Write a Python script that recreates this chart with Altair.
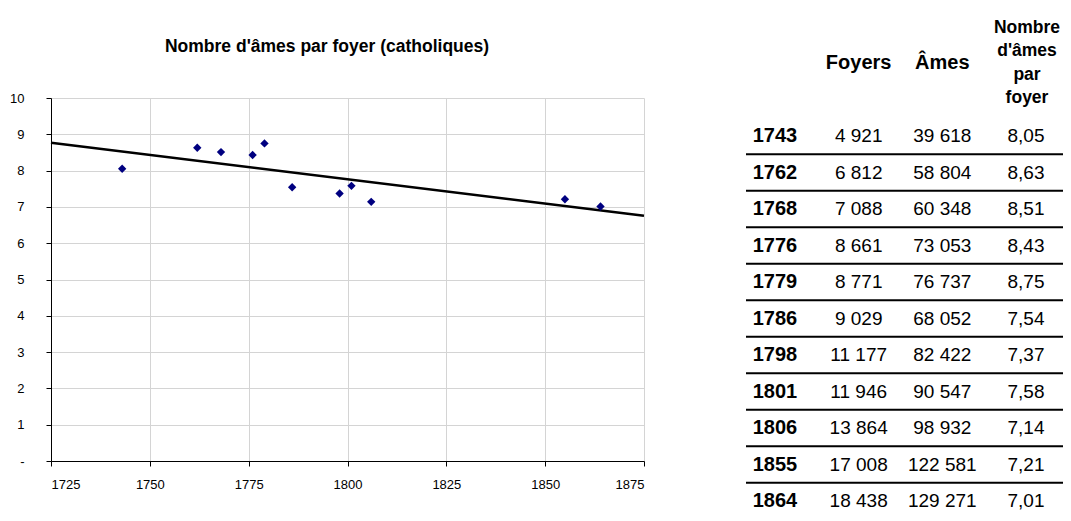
import altair as alt
import pandas as pd

# ---- data ----
years = [1743, 1762, 1768, 1776, 1779, 1786, 1798, 1801, 1806, 1855, 1864]
foyers = [4921, 6812, 7088, 8661, 8771, 9029, 11177, 11946, 13864, 17008, 18438]
ames = [39618, 58804, 60348, 73053, 76737, 68052, 82422, 90547, 98932, 122581, 129271]
ratio = [8.05, 8.63, 8.51, 8.43, 8.75, 7.54, 7.37, 7.58, 7.14, 7.21, 7.01]
x_ticks = [1725, 1750, 1775, 1800, 1825, 1850, 1875]
y_ticks = [0, 1, 2, 3, 4, 5, 6, 7, 8, 9, 10]
columns = ["Année", "Foyers", "Âmes", "Ratio"]
header_text = ["", "Foyers", "Âmes", "Nombre\nd'âmes\npar\nfoyer"]
title_text = "Nombre d'âmes par foyer (catholiques)"

FONT = "Liberation Sans, Arial, sans-serif"

def fr_int(v):
    return f"{v:,}".replace(",", " ")

def fr_dec(v):
    return f"{v:.2f}".replace(".", ",")

df_plot = pd.DataFrame({"year": years, "ratio": ratio})

row_domain = ["hdr", "gap"] + [str(y) for y in years]

tbl_rows = []
for y, f, a, r in zip(years, foyers, ames, ratio):
    tbl_rows.append({"row": str(y), "col": "Foyers", "txt": fr_int(f)})
    tbl_rows.append({"row": str(y), "col": "Âmes", "txt": fr_int(a)})
    tbl_rows.append({"row": str(y), "col": "Ratio", "txt": fr_dec(r)})
df_vals = pd.DataFrame(tbl_rows)
df_years = pd.DataFrame({"row": [str(y) for y in years], "col": "Année", "txt": [str(y) for y in years]})
df_hdr = pd.DataFrame({"row": "hdr", "col": columns[1:3], "txt": header_text[1:3]})
df_hdr2 = pd.DataFrame({"row": ["hdr"], "col": [columns[3]], "txt": [header_text[3]]})
df_rules = pd.DataFrame({"row": [str(y) for y in years[:-1]]})
df_title = pd.DataFrame({"t": [title_text]})

# ---- plot ----
xs = alt.Scale(domain=[1725, 1875], nice=False, zero=False)
ys = alt.Scale(domain=[0, 10], nice=False)

x_axis = alt.Axis(
    values=x_ticks, format="d", title=None, grid=True, gridColor="#d4d4d4",
    domainColor="black", tickColor="black", tickSize=5, labelPadding=12,
    labelFont=FONT, labelFontSize=13, labelColor="black", labelOverlap=False)
y_axis = alt.Axis(
    values=y_ticks, title=None, grid=True, gridColor="#d4d4d4",
    domainColor="black", tickColor="black", tickSize=5, labelPadding=22,
    labelExpr="datum.value == 0 ? '-' : datum.label",
    labelFont=FONT, labelFontSize=13, labelColor="black", labelOverlap=False)

trend = alt.Chart(df_plot).transform_regression(
    "year", "ratio", extent=[1725, 1875]
).mark_line(color="black", strokeWidth=2.5).encode(
    x=alt.X("year:Q", scale=xs, axis=x_axis),
    y=alt.Y("ratio:Q", scale=ys, axis=y_axis),
)

points = alt.Chart(df_plot).mark_point(
    shape="diamond", filled=True, color="#000080", size=70, opacity=1
).encode(
    x=alt.X("year:Q", scale=xs, axis=x_axis),
    y=alt.Y("ratio:Q", scale=ys, axis=y_axis),
)

title = alt.Chart(df_title).mark_text(
    font=FONT, fontSize=17.5, fontWeight="bold", color="black",
    align="center", baseline="middle"
).encode(text="t:N", x=alt.value(276), y=alt.value(-51))

plot_layer = alt.layer(trend, points, title)

# ---- table ----
cx = alt.Scale(domain=columns, type="point", range=[724, 975], padding=0)
ry = alt.Scale(domain=row_domain, type="band", range=[-53.25, 421.25],
               paddingInner=0, paddingOuter=0)

def tx(df, bold, dx=0, dy=0, size=19):
    return alt.Chart(df).mark_text(
        font=FONT, fontSize=size, fontWeight="bold" if bold else "normal",
        color="black", baseline="middle", align="center", dx=dx, dy=dy,
        lineHeight=23.3, lineBreak="\n"
    ).encode(
        x=alt.X("col:N", scale=cx, axis=None),
        y=alt.Y("row:N", scale=ry, axis=None),
        text="txt:N",
    )

rules = alt.Chart(df_rules).mark_rule(color="black", strokeWidth=2).encode(
    y=alt.Y("row:N", scale=ry, axis=None, bandPosition=1),
    x=alt.value(695), x2=alt.value(1030),
)

table_layer = alt.layer(rules, tx(df_years, True, size=20), tx(df_vals, False),
                        tx(df_hdr, True, size=20),
                        tx(df_hdr2, True, dx=1, dy=-35, size=17.5))

chart = alt.layer(plot_layer, table_layer).resolve_scale(
    x="independent", y="independent"
).properties(
    width=593, height=363, autosize="none",
    padding={"left": 43, "top": 90, "right": 419, "bottom": 52},
).configure_view(stroke=None)

chart.save("out.html", embed_options={"renderer": "svg", "actions": False})
